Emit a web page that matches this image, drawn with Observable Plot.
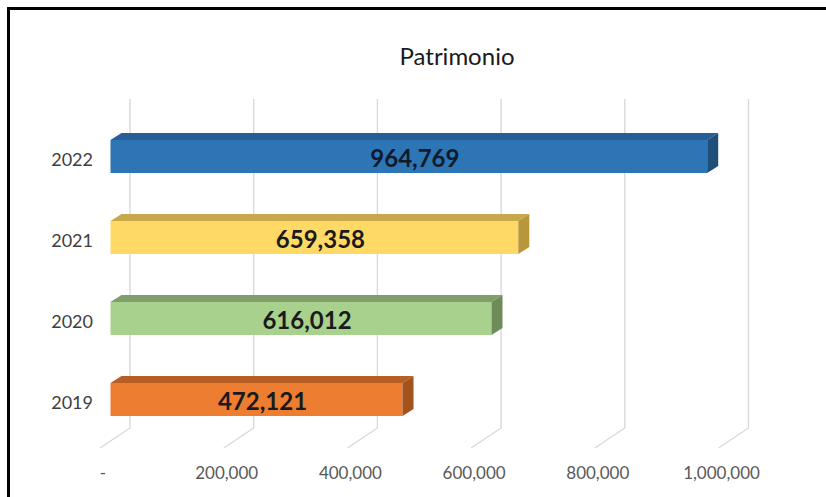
<!DOCTYPE html>
<html><head><meta charset="utf-8">
<script src="https://cdn.jsdelivr.net/npm/d3@7"></script>
<script src="https://cdn.jsdelivr.net/npm/@observablehq/plot@0.6"></script>
<style>
html,body{margin:0;padding:0;background:#fff;}
#wrap{position:relative;width:826px;height:497px;overflow:hidden;background:#fff;}
#frame{position:absolute;left:7px;top:7px;width:900px;height:600px;border-left:3px solid #000;border-top:3px solid #000;}
#title{position:absolute;left:0;width:914px;top:41px;text-align:center;font:24px Lato,sans-serif;color:#1a1a1a;}
#chart{position:absolute;left:0;top:0;}
</style></head><body>
<div id="wrap"><div id="frame"></div><div id="title">Patrimonio</div><div id="chart"></div></div>
<script>
const years = ["2022", "2021", "2020", "2019"];
const patrimonio = [964769, 659358, 616012, 472121];
const valueLabels = ["964,769", "659,358", "616,012", "472,121"];
const frontColors = ["#2E75B6", "#FFD966", "#A9D18E", "#ED7D31"];
const topColors = ["#255F96", "#C9A84B", "#7F9E69", "#B65E24"];
const sideColors = ["#1F4E79", "#B8963A", "#6E8C5A", "#A3521C"];
const xTicks = [0, 200000, 400000, 600000, 800000, 1000000];
const xTickLabels = ["-", "200,000", "400,000", "600,000", "800,000", "1,000,000"];

const rows = years.map((y, i) => ({year: y, value: patrimonio[i], label: valueLabels[i], i}));

const DX = 11, DY = 7;       // bar depth offsets
const BACK = 19.5;           // back wall offset of gridlines
const FLOOR_DX = 30, FLOOR_DY = 20;

function gridMark(index, scales, values, dimensions) {
  const g = d3.create("svg:g").attr("fill", "none").attr("stroke", "#d9d9d9").attr("stroke-width", 1.4);
  const top = 99, floorBack = 428;
  xTicks.forEach(t => {
    const bx = scales.x(t) + BACK;
    g.append("path").attr("d", `M${bx},${top}V${floorBack}L${bx - FLOOR_DX},${floorBack + FLOOR_DY}`);
  });
  return g.node();
}

function depthMark(index, scales, values, dimensions) {
  const x = scales.x, y = scales.y;
  const bw = y.bandwidth ? y.bandwidth() : 33;
  const g = d3.create("svg:g");
  rows.forEach(r => {
    const x0 = x(0), x1 = x(r.value), yt = y(r.year), yb = yt + bw;
    g.append("path")
      .attr("d", `M${x0},${yt}L${x0 + DX},${yt - DY}L${x1 + DX},${yt - DY}L${x1},${yt}Z`)
      .attr("fill", topColors[r.i]);
    g.append("path")
      .attr("d", `M${x1},${yt}L${x1 + DX},${yt - DY}L${x1 + DX},${yb - DY}L${x1},${yb}Z`)
      .attr("fill", sideColors[r.i]);
  });
  return g.node();
}

const chart = Plot.plot({
  width: 826,
  height: 497,
  marginLeft: 110.5,
  marginRight: 97,
  marginTop: 89,
  marginBottom: 31,
  style: {background: "transparent", fontFamily: "Lato, sans-serif", overflow: "visible"},
  x: {domain: [0, 1000000], axis: null, label: null},
  y: {domain: years, padding: 0.598, axis: null, label: null},
  marks: [
    gridMark,
    Plot.axisX(xTicks, {
      anchor: "bottom", tickSize: 0, tickPadding: 0, dx: -8, label: null,
      tickFormat: d => xTickLabels[xTicks.indexOf(d)],
      fontSize: 17, fill: "#595959", color: "#595959"
    }),
    Plot.axisY({
      anchor: "left", tickSize: 0, tickPadding: 18, dy: 3, label: null,
      fontSize: 18, fill: "#404040", color: "#404040"
    }),
    Plot.barX(rows, {x1: 0, x2: "value", y: "year", fill: d => frontColors[d.i]}),
    depthMark,
    Plot.text(rows, {
      x: d => d.value / 2, y: "year", text: "label", dx: DX / 2, dy: 2,
      fontSize: 24, fontWeight: "bold", fill: d => d.i === 0 ? "#0f1b2d" : "#1a1a1a"
    })
  ]
});
document.getElementById("chart").appendChild(chart);
</script>
</body></html>
